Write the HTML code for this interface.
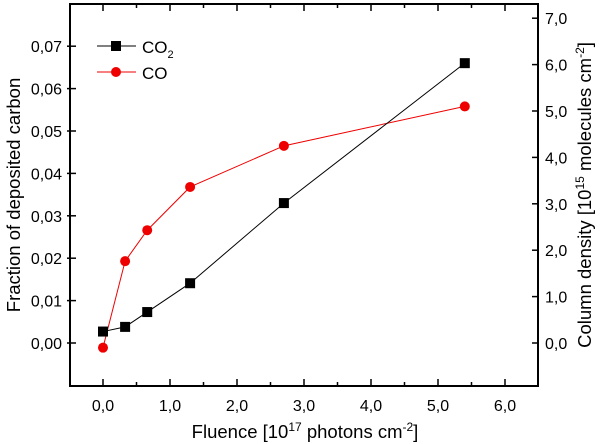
<!DOCTYPE html>
<html><head><meta charset="utf-8"><style>
body{margin:0;background:#fff}
svg{display:block;font-family:"Liberation Sans",Arial,sans-serif}
</style></head><body>
<svg id="chart" width="600" height="444" xmlns="http://www.w3.org/2000/svg">
<g id="axes"></g>
<g id="series"></g>
<g id="legend">
  <line x1="97" y1="46" x2="136" y2="46" stroke="#000" stroke-width="1"/>
  <rect x="111" y="41" width="10" height="10" fill="#000"/>
  <text x="142" y="53" font-size="17">CO<tspan font-size="11" dy="5">2</tspan></text>
  <line x1="97" y1="72" x2="136" y2="72" stroke="#e00" stroke-width="1"/>
  <circle cx="116" cy="72" r="5" fill="#e00"/>
  <text x="142" y="79" font-size="17">CO</text>
</g>
<text transform="translate(20,195) rotate(-90)" text-anchor="middle" font-size="18.5">Fraction of deposited carbon</text>
<text transform="translate(591,195) rotate(-90)" text-anchor="middle" font-size="18.5">Column density [10<tspan font-size="12" dy="-7">15</tspan><tspan dy="7"> molecules cm</tspan><tspan font-size="12" dy="-7">-2</tspan><tspan dy="7">]</tspan></text>
<text x="305" y="438" text-anchor="middle" font-size="18.5">Fluence [10<tspan font-size="12" dy="-7">17</tspan><tspan dy="7"> photons cm</tspan><tspan font-size="12" dy="-7">-2</tspan><tspan dy="7">]</tspan></text>
</svg>
<script>
const xValues=[0,0.33,0.66,1.3,2.7,5.4];
const co2Values=[0.0027,0.0038,0.0073,0.0141,0.033,0.066];
const coValues=[-0.0011,0.0193,0.0266,0.0368,0.0465,0.0558];
const xTicks=[0,1,2,3,4,5,6];
const xTickLabels=["0,0","1,0","2,0","3,0","4,0","5,0","6,0"];
const yTicks=[0,0.01,0.02,0.03,0.04,0.05,0.06,0.07];
const yTickLabels=["0,00","0,01","0,02","0,03","0,04","0,05","0,06","0,07"];
const y2Ticks=[0,1,2,3,4,5,6,7];
const y2TickLabels=["0,0","1,0","2,0","3,0","4,0","5,0","6,0","7,0"];

const L=70,R=538,T=4,B=386;
const X=v=>103+v*67;
const Y=v=>343-v*4240;
const Y2=v=>343-v*46.4;
const NS="http://www.w3.org/2000/svg";
function mk(tag,attrs,parent){const e=document.createElementNS(NS,tag);for(const k in attrs)e.setAttribute(k,attrs[k]);parent.appendChild(e);return e;}
const axes=document.getElementById('axes');
const fr=mk('rect',{x:L,y:T,width:R-L,height:B-T,fill:'none',stroke:'#000','stroke-width':2},axes);


for(let i=0;i<=13;i++){
  const v=-0.5+i*0.5;const x=X(v);if(x<=L+1||x>=R-1)continue;
  const major=Number.isInteger(v);const len=major?7:4;
  mk('line',{x1:x,y1:B,x2:x,y2:B-len,stroke:'#000','stroke-width':1.5},axes);
  mk('line',{x1:x,y1:T,x2:x,y2:T+len,stroke:'#000','stroke-width':1.5},axes);
}
xTicks.forEach((v,i)=>{
  const t=mk('text',{x:X(v),y:B+25,'text-anchor':'middle','font-size':16},axes);
  t.textContent=xTickLabels[i];
  
  
});
yTicks.forEach((v,i)=>{
  mk('line',{x1:L-3,y1:Y(v),x2:L+6,y2:Y(v),stroke:'#000','stroke-width':1.5},axes);
  const t=mk('text',{x:L-8,y:Y(v)+6,'text-anchor':'end','font-size':16},axes);
  t.textContent=yTickLabels[i];
  
  
});
y2Ticks.forEach((v,i)=>{
  mk('line',{x1:R-6,y1:Y2(v),x2:R+1,y2:Y2(v),stroke:'#000','stroke-width':1.5},axes);
  const t=mk('text',{x:R+7,y:Y2(v)+6,'text-anchor':'start','font-size':16},axes);
  t.textContent=y2TickLabels[i];
  
  
});
const ser=document.getElementById('series');
const pc=mk('polyline',{points:xValues.map((x,i)=>X(x)+','+Y(coValues[i])).join(' '),fill:'none',stroke:'#e00','stroke-width':1},ser);


const p2=mk('polyline',{points:xValues.map((x,i)=>X(x)+','+Y(co2Values[i])).join(' '),fill:'none',stroke:'#000','stroke-width':1},ser);


xValues.forEach((x,i)=>{
  const c=mk('circle',{cx:X(x),cy:Y(coValues[i]),r:5,fill:'#e00'},ser);
  
  
});
xValues.forEach((x,i)=>{
  const r=mk('rect',{x:X(x)-5,y:Y(co2Values[i])-5,width:10,height:10,fill:'#000'},ser);
  
  
});
</script>
</body></html>
